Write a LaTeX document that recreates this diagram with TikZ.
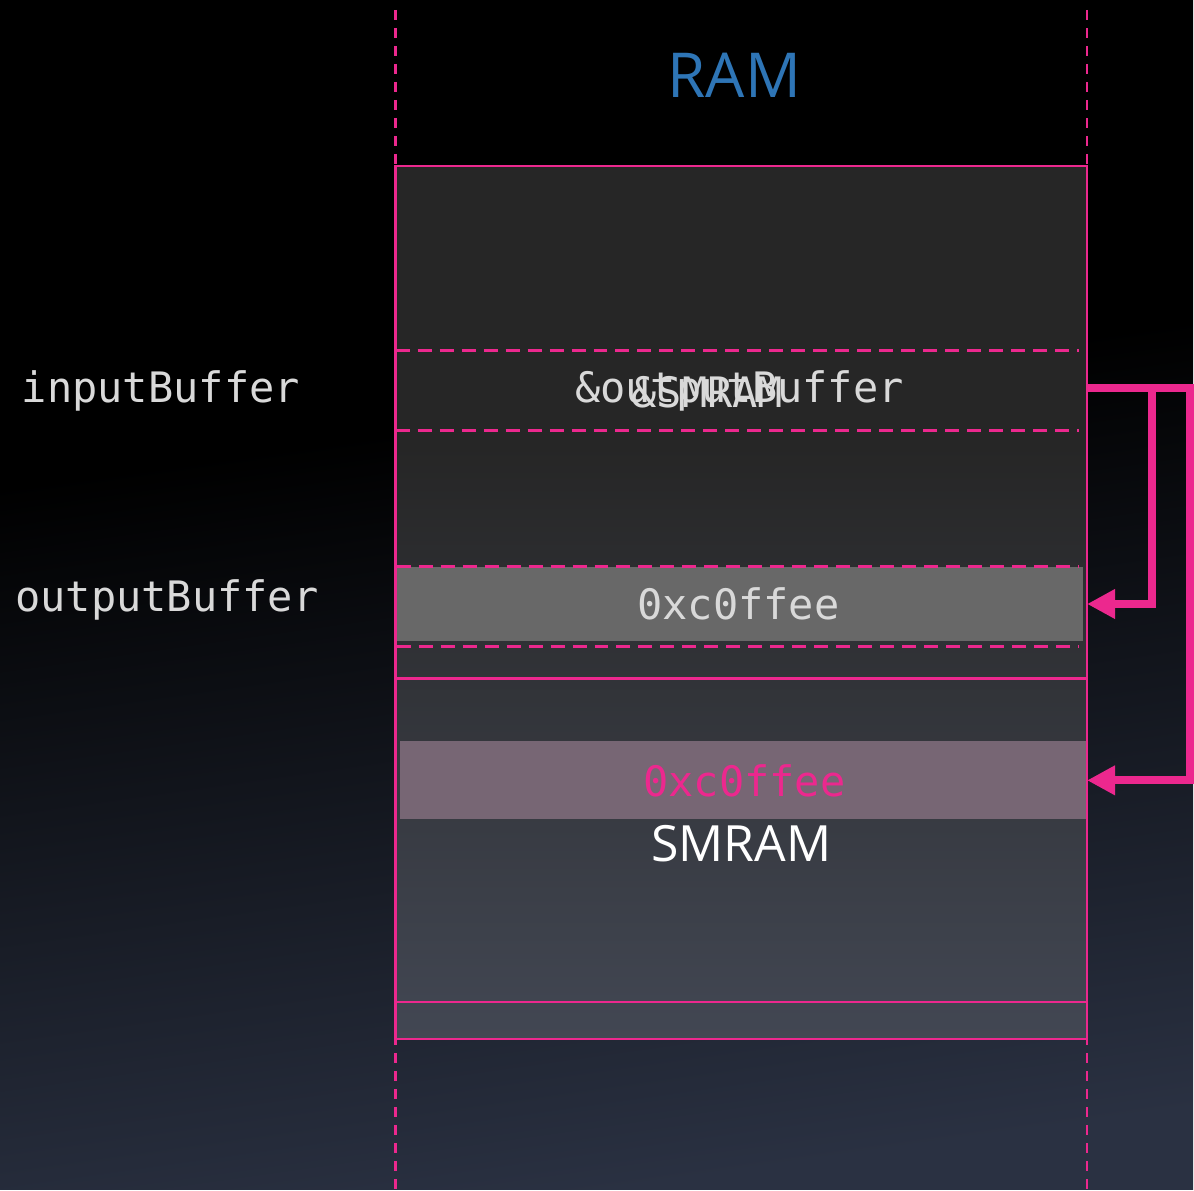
\documentclass[tikz,border=0pt]{standalone}
\usepackage{fontspec}
\setmainfont{Open Sans}
\newfontfamily\codefont{DejaVu Sans Mono}
\usetikzlibrary{arrows.meta,positioning,calc}
\definecolor{hotpink}{RGB}{236,40,142}
\definecolor{ramblue}{RGB}{46,117,182}
\definecolor{lightgray}{RGB}{217,217,217}
\definecolor{bufgray}{RGB}{104,104,104}
\definecolor{smgray}{RGB}{119,102,116}
\definecolor{bglow}{RGB}{42,49,66}
\definecolor{ramhigh}{RGB}{38,38,38}
\definecolor{ramlow}{RGB}{66,71,83}
\pgfdeclareverticalshading{backdrop}{100bp}{color(0bp)=(bglow); color(25bp)=(bglow); color(58bp)=(black); color(100bp)=(black)}
\pgfdeclareverticalshading{ramfill}{100bp}{color(0bp)=(ramlow); color(25bp)=(ramlow); color(59bp)=(ramhigh); color(100bp)=(ramhigh)}

\begin{document}
\begin{tikzpicture}[x=0.5pt, y=-0.5pt,
  rail/.style={hotpink, line width=1.3pt, dash pattern=on 5pt off 4pt},
  cutline/.style={hotpink, line width=1.3pt, dash pattern=on 7pt off 4pt},
  slot/.style={minimum width=#1, minimum height=39pt, inner sep=0pt, outer sep=0pt},
  addr/.style={font=\codefont\fontsize{21}{24}\selectfont, text=lightgray, inner sep=0pt, anchor=base},
  link/.style={hotpink, line width=4pt, -{Triangle[length=14pt, width=14pt]}}]
\shade[shading=backdrop, shading angle=8] (0,0) rectangle (1194,1190);
\draw[rail] (396,10) -- (396,1190);
\draw[rail] (1088,10) -- (1088,1190);
% memory column
\node[shade, shading=ramfill, draw=hotpink, line width=1.3pt, anchor=north west, minimum width=346pt, minimum height=437pt, inner sep=0pt, outer sep=0pt] (ram) at (396,166) {};
\node[font=\fontsize{31}{36}\selectfont, text=ramblue, anchor=base, inner sep=0pt] (title) at (735,98) {RAM};
% input buffer
\node[slot=346pt, minimum height=40pt] (inbuf) at (742,391) {};
\draw[cutline] (inbuf.north west) -- ([xshift=-4pt]inbuf.north east);
\draw[cutline] (inbuf.south west) -- ([xshift=-4pt]inbuf.south east);
\node[addr] (outptr) at (740,403) {\&outputBuffer};
\node[addr] (smptr) at (708,408) {\&SMRAM};
% output buffer
\node[slot=343.5pt, minimum height=37.5pt, fill=bufgray, anchor=west] (outbuf) at (397,604.5) {};
\draw[cutline] (outbuf.north west) -- ([xshift=-2pt]outbuf.north east);
\draw[cutline] ([yshift=-2.5pt]outbuf.south west) -- ([xshift=-2pt, yshift=-2.5pt]outbuf.south east);
\node[addr] (outval) at (739,620) {0xc0ffee};
% smram
\node[slot=344pt, fill=smgray, anchor=north east] (smslot) at (1088,742) {};
\node[draw=hotpink, line width=1.3pt, anchor=north west, minimum width=346pt, minimum height=162pt, inner sep=0pt, outer sep=0pt] (smram) at (396,679) {};
\node[addr, text=hotpink] (smval) at (745,797) {0xc0ffee};
\node[font=\fontsize{25}{30}\selectfont, text=white, anchor=base, inner sep=0pt] (smlabel) at (742,862) {SMRAM};
% labels
\node[addr] (inlabel) at (161,403) {inputBuffer};
\node[addr] (outlabel) at (167,612) {outputBuffer};
% pointers
\draw[link] ([yshift=1.5pt]inbuf.east) -- ++(65,0) |- (outbuf.east -| ram.east);
\draw[link] ([yshift=1.5pt]inbuf.east) -- ++(103,0) |- (smslot.east);
\end{tikzpicture}
\end{document}
